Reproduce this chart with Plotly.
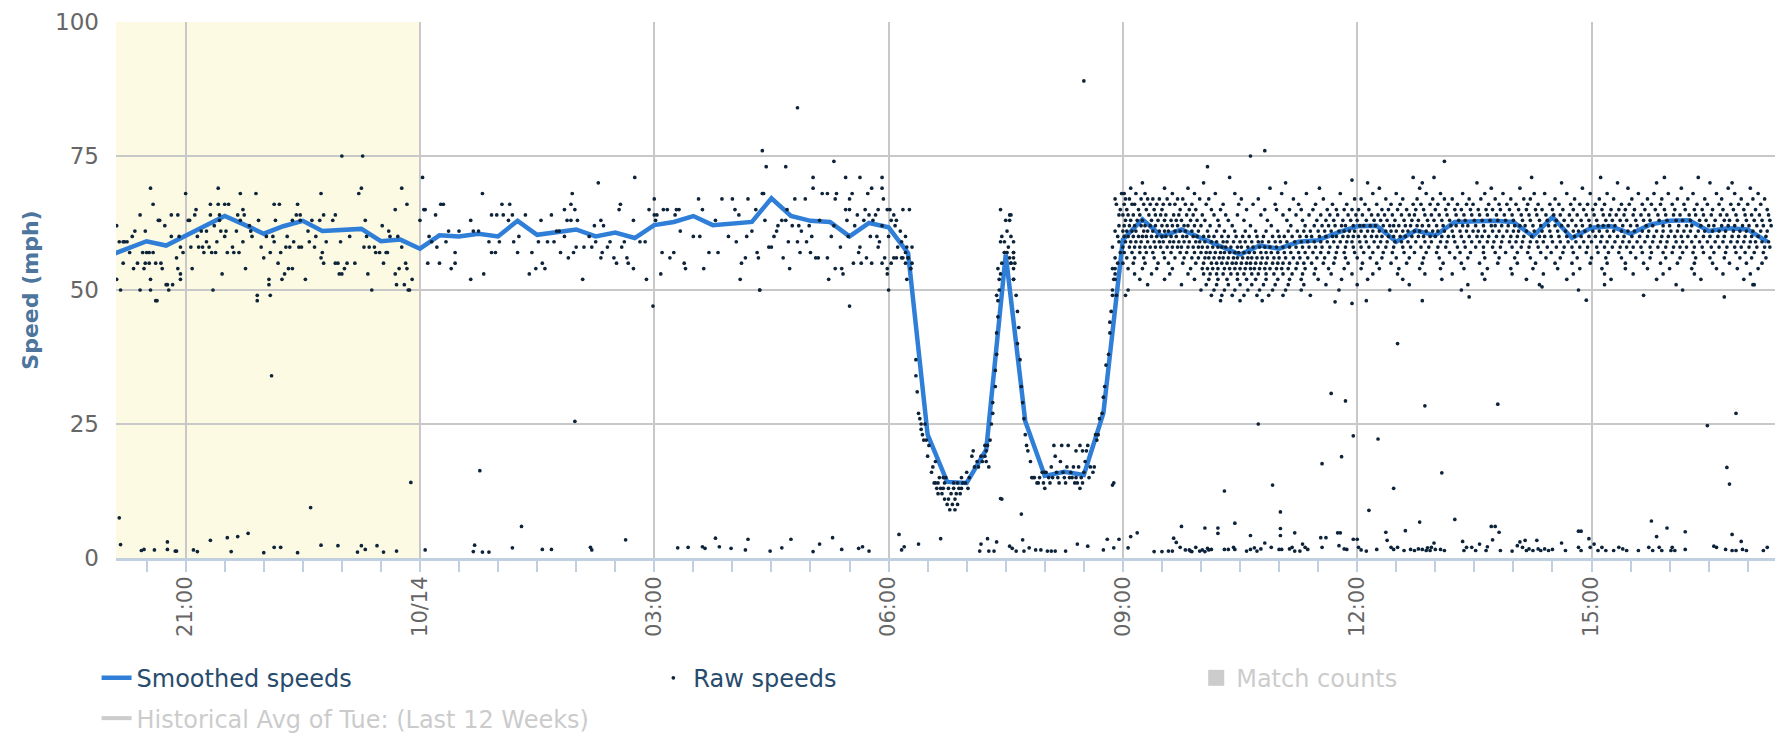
import pandas as pd
import plotly.graph_objects as go

# ---------------- data ----------------
BASE = "2014-10-13 20:00"          # raw minutes are counted from here

smooth_start = "2014-10-13 20:00"  # smoothed speeds, one value every 15 min
smooth_mph = [
    56.3, 57.7, 59.1, 58.3, 60.2, 61.9, 63.8, 62.2, 60.5, 61.9, 62.9, 61.0, 61.2, 61.4, 59.1, 59.4,
    57.7, 60.2, 60.0, 60.5, 60.0, 62.9, 60.3, 60.7, 61.3, 60.0, 60.7, 59.7, 62.1, 62.7, 63.8, 62.1,
    62.5, 62.7, 67.1, 63.8, 62.9, 62.7, 60.0, 62.5,
    61.7, 56.9, 23.0, 14.2, 14.0, 20.2, 56.6, 25.5, 15.3, 16.1, 15.5, 27.0, 59.4, 63.2, 60.0, 61.3,
    59.7, 58.2, 56.6, 58.3, 57.7, 59.0, 59.3, 60.7,
    61.9, 62.0, 59.0, 61.1, 60.2, 62.7, 62.9, 62.9, 62.7, 60.0, 63.6, 59.7, 61.6, 61.9, 60.5, 62.2,
    62.9, 63.0, 61.0, 61.5, 61.3, 59.0,
]

# raw speeds: (minutes after 20:00 on 10/13, mph)
raw_evening = [
    (7,62),(9,59),(12,59),(13,59),(7,52),(10,50),(12,55),(15,59),(17,57),(19,60),(20,54),(21,61),(23,55),
    (25,64),(25,50),(27,57),(28,54),(29,61),(29,55),(30,57),(32,57),(32,55),(33,52),(33,69),(33,50),(35,66),
    (35,57),(37,55),(37,48),(39,63),(40,63),(41,55),(42,54),(44,62),(45,51),(46,51),(47,50),(49,64),(49,60),
    (50,51),(53,56),(54,64),(54,54),(55,60),(56,52),(56,58),(56,53),(58,57),(60,68),(38,48),
    (62,63),(63,63),(64,58),(65,54),(67,64),(68,65),(69,60),(70,58),(72,61),(73,58),(74,57),(76,59),(76,61),
    (78,58),(79,64),(79,66),(80,57),(81,50),(82,62),(83,57),(84,59),(85,69),(85,66),(86,64),(86,63),(87,61),
    (88,53),(90,66),(90,60),(91,61),(92,57),(93,66),(96,58),(97,57),(99,61),(100,64),(101,57),(102,68),
    (102,63),(104,65),(104,59),(105,64),(106,54),(109,62),(110,61),(111,60),(114,68),(115,49),(116,63),
    (118,58),(120,56),(122,60),(124,52),(124,51),(125,49),(125,57),(127,60),(128,66),(128,59),(129,63),
    (131,55),(132,66),(133,57),(134,52),(136,53),(137,58),(138,60),(139,54),(140,58),(142,63),(142,54),
    (143,59),(145,64),(146,66),(147,58),(148,63),(148,64),(149,58),(152,52),(154,61),(155,59),(157,63),
    (159,58),(160,60),(163,63),(164,56),(164,68),(165,57),(166,64),(166,55),(168,59),(173,63),(175,64),
    (175,55),(177,55),(178,53),(179,59),(180,53),(182,54),(184,55),(186,60),(190,55),(193,68),(195,69),
    (197,58),(198,63),(199,60),(200,53),(201,58),(203,50),(205,58),(206,57),(209,57),(211,62),(212,55),
    (214,57),(215,57),(216,61),(217,60),(221,65),(221,53),(223,60),(224,54),(226,69),(226,58),(228,51),
    (229,55),(230,66),(230,54),(232,50),(234,52),(115,48),(222,51),(231,50),(180,75),(196,75),
    (240,63),(242,71),(243,65),(244,65),(246,55),(247,60),(249,59),(252,64),(253,58),(255,55),(256,66),
    (258,66),(260,59),(262,61),(264,54),(267,55),(267,57),(270,61),(279,63),(279,52),(281,61),(285,61),
    (288,68),(289,53),(293,59),(295,64),(295,57),(298,57),(299,64),(301,59),(303,66),(304,64),(308,63),
    (309,66),(311,64),(312,59),(315,57),(316,60),(321,64),(324,53),(326,57),(329,54),(331,59),
]

raw_night = [
    (333,63),(336,54),(334,55),(338,59),(341,64),(343,59),(345,61),(347,61),(348,57),(351,60),(351,65),
    (353,63),(354,56),(356,63),(356,66),(357,68),(358,57),(359,65),(361,63),(360,58),(365,52),(366,58),
    (370,60),(372,58),(374,62),(375,59),(377,70),(379,56),(379,63),(380,57),(381,62),(384,58),(386,59),
    (389,56),(391,55),(393,65),(394,66),(395,58),(397,59),(399,56),(400,55),(404,63),(404,54),(405,71),
    (409,59),(413,59),(414,52),(416,65),(420,67),(420,64),(421,63),(422,64),(425,53),(426,57),(427,65),
    (430,65),(432,56),(435,57),(436,64),(437,65),(439,65),(440,61),(443,55),(444,54),(450,60),(454,67),
    (455,60),(457,65),(458,54),(462,57),(467,63),(469,57),(472,67),(477,60),(480,67),(482,65),(483,59),
    (485,64),(486,52),(487,55),(490,56),(491,60),(492,67),(495,61),(498,65),(499,57),(500,56),(501,50),
    (503,68),(504,68),(505,63),(508,58),(510,58),(512,60),(514,61),(515,62),(518,63),(519,56),(521,63),
    (522,65),(523,59),(524,54),(526,62),(528,67),(530,59),(531,62),(532,57),(533,61),(536,67),(537,59),
    (539,62),(540,57),(541,60),(542,71),(542,69),(544,56),(546,56),(547,63),(549,68),(553,68),(553,56),
    (554,52),(556,60),(558,62),(559,67),(559,54),(560,68),(563,58),(564,54),(565,53),(567,71),(567,65),
    (568,63),(569,60),(570,67),(570,65),(572,68),(573,55),(574,62),(576,64),(577,57),(578,71),(578,58),
    (579,55),(581,63),(582,65),(583,56),(584,68),(585,64),(586,60),(587,69),(587,55),(588,63),(590,64),
    (591,60),(592,58),(592,65),(593,59),(595,71),(595,69),(595,62),(596,67),(597,56),(599,53),(599,65),
    (600,60),(601,65),(602,63),(604,64),(605,62),(606,63),(607,58),(609,61),(610,59),(610,56),(611,65),
    (613,60),(613,55),(614,58),(615,56),(616,65),(617,54),(618,58),
    (503,76),(506,73),(521,73),(530,84),(558,74),(750,89),(419,47),(570,47),(501,50),(600,50),
]

raw_dip = [
    (595,55),(604,56),(606,56),(611,56),(613,57),(615,56),(617,54),(618,55),(614,52),(599,54),(602,55),
    (621,37),(621,34),(622,31),(623,27),(624,26),(625,25),(625,24),(626,23),(628,25),(627,22),(629,22),
    (631,21),(630,19),(634,17),(636,18),(636,14),(635,14),(638,14),(640,13),(641,12),(642,13),(643,11),
    (645,10),(646,11),(647,9),(649,10),(650,13),(651,11),(652,12),(654,13),(655,12),(653,10),(651,9),
    (646,13),(638,12),(637,13),(633,16),(642,15),(656,13),(657,14),(659,14),(660,16),(661,13),(664,19),
    (665,20),(668,18),(669,17),(672,18),(674,19),(675,20),(675,18),(677,17),(674,21),(678,22),(679,25),
    (680,27),(680,29),(682,32),(682,35),(683,38),(683,42),(684,45),(684,48),(685,50),(686,53),(687,55),
    (689,57),(691,57),(693,56),(694,55),(696,57),(696,52),(697,55),(698,49),(699,46),(700,43),(699,40),
    (701,37),(702,32),(703,29),(704,26),(705,23),(706,21),(707,20),(709,18),(710,15),(711,15),(712,15),
    (714,14),(715,14),(716,15),(718,16),(719,14),(720,13),(721,16),(723,15),(724,14),(725,17),(727,21),
    (728,19),(729,16),(730,15),(732,18),(733,21),(734,16),(735,15),(737,17),(738,21),(739,15),(741,15),
    (742,17),(743,14),(744,15),(746,17),(747,13),(748,15),(750,16),(751,18),(752,20),(753,21),(755,17),
    (757,16),(759,23),(760,22),(761,23),(762,26),(764,27),(765,30),(766,32),(767,36),(769,38),(770,42),
    (770,44),(771,46),(772,49),(773,52),(774,53),(774,54),(776,55),(778,57),(773,14),(687,11),
    (643,14),(644,15),(648,12),(650,14),(639,15),(653,14),(656,15),(662,15),(666,17),(671,19),(676,21),
    (720,16),(726,15),(731,14),(736,14),(740,16),(745,14),(749,14),(754,15),(758,17),(744,20),(747,21),
    (749,20),
    (686,65),(693,64),(694,64),(690,63),(693,63),(691,61),(694,60),(687,60),(689,59),(696,59),(686,59),
    (692,58),(696,57),(689,57),(696,56),(694,55),(684,54),(696,54),(685,52),(696,52),(683,49),
    (774,67),(775,66),(777,64),(774,61),(772,58),(774,56),(772,54),(774,52),(772,50),(775,49),(776,60),
    (777,62),(778,65),(779,68),(777,59),
]

# daytime raw speeds come in whole-mph rows: minutes after 20:00 for each speed
day_71 = [862, 1003, 1019, 1094, 1147, 1196, 1222]
day_70 = [795, 842, 905, 968, 1010, 1052, 1117, 1160, 1190, 1231, 1248]
day_69 = [786, 812, 830, 893, 931, 977, 1008, 1063, 1085, 1133, 1168, 1209, 1245, 1262]
day_68 = [781, 790, 797, 818, 835, 851, 866, 902, 921, 947, 972, 990, 1013, 1024, 1041, 1058, 1072, 1096,
          1104, 1121, 1139, 1152, 1176, 1188, 1199, 1218, 1236, 1250, 1268]
day_67 = [782, 785, 794, 799, 803, 808, 814, 822, 826, 839, 846, 871, 884, 911, 934, 958, 963, 982, 995,
          1006, 1018, 1027, 1033, 1046, 1055, 1066, 1078, 1088, 1093, 1112, 1127, 1146, 1157, 1171, 1183,
          1194, 1206, 1214, 1227, 1240, 1255, 1264, 1273]
day_66 = [781, 787, 789, 796, 801, 806, 811, 816, 820, 828, 833, 844, 857, 869, 880, 897, 915, 928, 941,
          952, 966, 975, 986, 993, 1003, 1009, 1016, 1022, 1030, 1037, 1044, 1049, 1061, 1069, 1075, 1082,
          1091, 1099, 1108, 1115, 1124, 1131, 1137, 1143, 1150, 1163, 1169, 1179, 1186, 1193, 1202, 1211,
          1221, 1229, 1238, 1247, 1253, 1260, 1270]
day_65 = [783, 792, 798, 804, 810, 824, 831, 836, 848, 855, 875, 889, 898, 908, 917, 926, 937, 944, 950,
          956, 961, 969, 979, 984, 991, 998, 1005, 1011, 1020, 1028, 1035, 1040, 1047, 1053, 1059, 1064,
          1070, 1077, 1084, 1090, 1097, 1102, 1110, 1118, 1126, 1134, 1141, 1148, 1155, 1161, 1166, 1173,
          1181, 1189, 1196, 1204, 1212, 1219, 1225, 1233, 1241, 1249, 1257, 1266, 1275]
day_64 = [780, 784, 788, 793, 800, 805, 809, 813, 819, 823, 829, 834, 841, 850, 859, 868, 886, 903, 913,
          923, 932, 939, 945, 953, 959, 964, 971, 976, 981, 987, 994, 1000, 1004, 1012, 1017, 1023, 1029,
          1036, 1042, 1048, 1054, 1060, 1067, 1073, 1079, 1086, 1092, 1098, 1105, 1111, 1116, 1123, 1129,
          1136, 1142, 1149, 1154, 1159, 1165, 1172, 1178, 1184, 1191, 1197, 1203, 1208, 1215, 1220, 1226,
          1232, 1239, 1244, 1251, 1258, 1263, 1269, 1276]
day_63 = [782, 786, 791, 795, 802, 807, 812, 817, 821, 825, 832, 837, 843, 853, 861, 873, 891, 906, 918,
          929, 936, 942, 949, 955, 960, 967, 973, 978, 983, 989, 996, 1002, 1007, 1014, 1019, 1025, 1031,
          1038, 1043, 1050, 1056, 1062, 1068, 1074, 1080, 1087, 1093, 1100, 1106, 1113, 1119, 1125, 1132,
          1138, 1144, 1151, 1156, 1162, 1167, 1174, 1180, 1185, 1192, 1198, 1205, 1210, 1216, 1223, 1228,
          1235, 1242, 1246, 1252, 1259, 1265, 1271, 1277]
day_62 = [781, 785, 789, 794, 797, 801, 805, 810, 814, 818, 822, 827, 830, 835, 840, 847, 854, 864, 878,
          894, 909, 920, 927, 933, 938, 943, 948, 951, 957, 962, 965, 970, 974, 980, 985, 988, 992, 997,
          1001, 1006, 1010, 1015, 1021, 1026, 1032, 1036, 1041, 1045, 1051, 1057, 1063, 1066, 1071, 1076,
          1081, 1085, 1089, 1095, 1101, 1107, 1112, 1117, 1122, 1128, 1133, 1139, 1145, 1149, 1153, 1158,
          1164, 1170, 1175, 1182, 1187, 1195, 1200, 1207, 1213, 1217, 1224, 1230, 1234, 1240, 1245, 1250,
          1256, 1261, 1267, 1272, 1278]
day_61 = [780, 783, 787, 790, 796, 799, 803, 808, 812, 815, 820, 824, 828, 833, 838, 845, 852, 858, 866,
          874, 882, 890, 899, 907, 914, 919, 924, 930, 935, 940, 946, 950, 954, 958, 963, 968, 972, 977,
          982, 986, 990, 995, 999, 1004, 1008, 1013, 1018, 1022, 1027, 1033, 1039, 1044, 1049, 1053, 1058,
          1064, 1069, 1075, 1080, 1084, 1090, 1096, 1102, 1108, 1114, 1120, 1126, 1130, 1135, 1141, 1146,
          1152, 1157, 1163, 1168, 1173, 1179, 1184, 1190, 1195, 1201, 1206, 1211, 1216, 1222, 1227, 1233,
          1238, 1243, 1249, 1254, 1259, 1264, 1270, 1275]
day_60 = [781, 784, 788, 792, 795, 798, 802, 806, 810, 813, 817, 821, 826, 829, 834, 837, 842, 846, 850,
          856, 861, 867, 872, 877, 883, 888, 895, 900, 904, 910, 916, 921, 925, 931, 936, 941, 944, 949,
          953, 957, 961, 966, 971, 975, 979, 984, 988, 993, 997, 1002, 1007, 1011, 1016, 1020, 1025, 1030,
          1034, 1040, 1046, 1052, 1056, 1061, 1067, 1072, 1078, 1083, 1088, 1094, 1100, 1104, 1109, 1115,
          1121, 1127, 1132, 1138, 1143, 1148, 1154, 1160, 1165, 1171, 1177, 1183, 1188, 1194, 1199, 1204,
          1209, 1214, 1220, 1226, 1231, 1237, 1242, 1248, 1253, 1258, 1263, 1268, 1274]
day_59 = [782, 786, 790, 794, 799, 804, 808, 811, 816, 819, 823, 827, 831, 836, 839, 843, 848, 852, 857,
          860, 865, 870, 874, 879, 884, 887, 892, 897, 901, 906, 912, 917, 922, 927, 932, 937, 942, 947,
          952, 956, 962, 967, 973, 978, 983, 989, 994, 999, 1005, 1012, 1017, 1024, 1029, 1035, 1042, 1048,
          1054, 1060, 1065, 1071, 1077, 1082, 1087, 1093, 1098, 1103, 1110, 1116, 1122, 1128, 1134, 1140,
          1147, 1152, 1158, 1164, 1169, 1175, 1181, 1187, 1193, 1198, 1205, 1210, 1217, 1223, 1229, 1235,
          1241, 1247, 1252, 1257, 1262, 1266, 1271, 1276]
day_58 = [780, 785, 789, 793, 797, 801, 805, 809, 814, 818, 822, 825, 830, 834, 838, 841, 845, 849, 853,
          856, 859, 863, 868, 871, 876, 880, 885, 889, 893, 898, 903, 908, 913, 918, 923, 928, 933, 939,
          945, 951, 957, 963, 969, 976, 982, 988, 995, 1001, 1009, 1015, 1022, 1028, 1037, 1043, 1051,
          1057, 1064, 1070, 1079, 1086, 1092, 1099, 1106, 1113, 1119, 1125, 1131, 1137, 1144, 1150, 1156,
          1162, 1167, 1172, 1178, 1185, 1191, 1197, 1203, 1208, 1213, 1219, 1225, 1232, 1238, 1244, 1250,
          1255, 1261, 1267, 1273, 1277]
day_57 = [781, 787, 793, 798, 803, 811, 817, 824, 829, 835, 840, 844, 847, 851, 855, 858, 862, 866, 869,
          873, 877, 881, 886, 890, 894, 899, 904, 909, 915, 920, 926, 932, 938, 944, 950, 958, 965, 972,
          980, 987, 996, 1004, 1013, 1021, 1031, 1039, 1047, 1057, 1066, 1074, 1083, 1091, 1101, 1109,
          1118, 1126, 1136, 1145, 1153, 1161, 1170, 1179, 1186, 1195, 1202, 1210, 1218, 1226, 1234, 1243,
          1251, 1258, 1265, 1272]
day_56 = [783, 789, 796, 804, 812, 820, 827, 833, 838, 843, 846, 850, 854, 857, 861, 865, 868, 872, 876,
          879, 883, 887, 891, 896, 900, 905, 911, 916, 922, 929, 935, 943, 951, 960, 970, 979, 990, 1000,
          1011, 1023, 1035, 1045, 1058, 1069, 1081, 1093, 1105, 1116, 1129, 1140, 1151, 1163, 1174, 1185,
          1197, 1208, 1220, 1231, 1242, 1254, 1263, 1274]
day_55 = [780, 788, 797, 807, 815, 826, 836, 842, 848, 852, 856, 860, 864, 867, 871, 875, 878, 882, 886,
          890, 895, 899, 903, 908, 914, 919, 925, 934, 942, 953, 964, 975, 986, 998, 1010, 1026, 1040,
          1054, 1068, 1083, 1097, 1112, 1125, 1139, 1152, 1166, 1180, 1193, 1206, 1219, 1233, 1246, 1259,
          1271]
day_54 = [784, 795, 806, 818, 832, 841, 845, 849, 853, 858, 862, 866, 870, 874, 878, 881, 885, 889, 893,
          898, 902, 907, 913, 920, 928, 938, 950, 963, 977, 992, 1008, 1024, 1042, 1060, 1078, 1095, 1114,
          1131, 1148, 1166, 1183, 1200, 1217, 1236, 1252, 1268]
day_53 = [789, 802, 816, 830, 842, 847, 852, 857, 863, 868, 873, 879, 884, 890, 896, 903, 910, 918, 927,
          940, 956, 972, 991, 1012, 1033, 1056, 1079, 1103, 1126, 1150, 1172, 1195, 1219, 1241, 1262]
day_52 = [793, 812, 835, 846, 853, 860, 868, 875, 882, 890, 899, 908, 917, 930, 948, 968, 995, 1025, 1058,
          1090, 1121, 1155, 1190, 1224, 1257]
day_51 = [799, 825, 844, 852, 861, 870, 879, 888, 897, 907, 919, 936, 960, 1000, 1045, 1100, 1150, 1205, 1265]
day_50 = [784, 840, 850, 858, 866, 876, 885, 895, 905, 917, 946, 985, 1040, 1130, 1210]
day_49 = [782, 848, 856, 864, 873, 883, 892, 903, 924, 1180]
day_48 = [855, 870, 887, 1010]

raw_day_outliers = [(845,73),(878,75),(889,76),(956,70.5),(1027,74)]

# stray readings near standstill and in between
raw_low = [
    (9,7.5),(10,2.5),(26,1.4),(28,1.6),(36,1.5),(46,3),(46,1.6),(52,1.3),(53,1.3),(66,1.5),(69,1.2),(79,3.3),
    (92,3.8),(95,1.2),(100,4),(108,4.6),(120,1),(126,34),(128,2),(133,2),(146,1),(156,9.4),(164,2.4),
    (177,2.3),(192,1.1),(195,2.3),(198,1.6),(207,2.3),(212,1.1),(222,1.3),(233,14.1),(244,1.5),(281,1.2),
    (282,2.4),(286,16.3),(288,1.1),(293,1.1),(311,1.9),(318,5.9),(334,1.6),(341,1.6),(359,25.5),(371,2),
    (372,1.5),(398,3.4),(438,1.9),(446,2),(457,2.1),(459,1.8),(467,3.7),(470,2.1),(479,1.8),(490,1.5),
    (492,3.5),(509,1.3),(518,1.9),(525,3.5),(542,1.2),(547,2.6),(557,3.8),(564,1.6),(577,1.8),(580,2.1),
    (585,1.3),(608,4.4),(610,1.5),(612,2.1),(623,2.6),(640,3.6),(670,1.3),(671,2.6),(676,3.6),(677,1.3),
    (681,1.3),(683,3),(686,11.1),(693,2.2),(695,1.8),(698,1.3),(702,8.2),(703,3.4),(704,1.3),(708,1.9),
    (713,1.5),(717,1.5),(722,1.3),(725,1.3),(728,1.3),(736,1.3),(745,2.6),(753,2.2),(765,1.5),(768,3.5),
    (772,13.6),(773,1.9),(777,3.5),(784,1.9),(786,4),(791,4.7),(804,1.2),(810,1.2),(815,1.3),(818,1.3),
    (819,3.7),(821,2.9),(824,2),(825,5.9),(828,1.5),(832,1.3),(836,2),(831,1.5),(833,1.2),(839,1.3),
    (841,1.5),(843,5.6),(843,1.2),(845,1.8),(846,1.5),(848,1.6),(853,5.6),(853,4.6),(858,12.5),(858,1.6),
    (861,1.6),(865,2),(866,6.5),(866,1.6),(875,1.3),(878,1.6),(878,4.2),(881,1.9),(883,1.3),(884,25),
    (886,1.7),(889,2.8),(894,2),(895,13.6),(900,1.6),(901,8.6),(901,5.5),(901,4.2),(902,1.6),(908,1.7),
    (910,2),(912,4.7),(912,1.3),(916,1.3),(918,2.6),(920,2),(922,1.6),(932,3.8),(936,3.8),(933,17.6),
    (933,2),(940,30.7),(943,47.8),(945,4.7),(947,4.7),(948,18.9),(946,2.3),(950,1.7),(952,1.6),(951,29.3),
    (956,47.5),(957,22.8),(957,3.5),(960,3.5),(961,2),(963,1.5),(967,1.3),(967,48),(969,8.9),(975,1.6),
    (976,22.2),(982,4.8),(983,3.3),(986,2),(988,1.6),(988,13),(991,2),(991,40),(996,1.4),(997,5.1),
    (1001,1.6),(1004,1.4),(1007,1.7),(1008,6.7),(1010,1.6),(1012,28.4),(1013,1.4),(1014,1.9),(1016,1.4),
    (1017,2),(1019,2.8),(1020,1.6),(1024,1.6),(1025,15.9),(1027,1.4),(1035,7.2),(1041,3.1),(1042,1.4),
    (1044,2),(1046,48.7),(1048,2),(1051,1.4),(1054,2.6),(1059,1.4),(1060,2.1),(1063,5.9),(1064,3.4),
    (1066,5.9),(1068,28.7),(1069,4.8),(1070,1.4),(1079,1.3),(1083,2.3),(1085,3),(1087,2),(1089,3.3),
    (1090,1.4),(1092,1.7),(1095,1.4),(1098,3.3),(1099,1.7),(1101,1.4),(1102,50.6),(1104,1.7),(1107,1.4),
    (1110,1.6),(1117,2.8),(1120,1.4),(1130,5),(1132,5),(1130,2),(1132,1.4),(1136,48.1),(1138,3.6),
    (1139,2),(1142,2.6),(1145,1.4),(1148,2),(1151,1.4),(1157,1.4),(1161,2),(1164,1.7),(1167,1.4),
    (1176,1.4),(1184,2),(1186,6.9),(1187,1.4),(1190,4),(1192,2),(1194,1.4),(1198,5.6),(1201,1.4),
    (1202,2),(1204,1.4),(1212,4.9),(1212,1.6),(1229,24.7),(1234,2.2),(1236,2),(1242,48.7),(1244,16.9),
    (1246,13.8),(1243,1.6),(1248,4.4),(1248,1.4),(1251,27),(1251,1.4),(1255,3.1),(1256,1.6),(1259,1.4),
    (1264,51),(1272,1.4),(1275,2),
]

x_tick_vals = ["2014-10-13 21:00", "2014-10-14 00:00", "2014-10-14 03:00", "2014-10-14 06:00",
               "2014-10-14 09:00", "2014-10-14 12:00", "2014-10-14 15:00"]
x_tick_text = ["21:00", "10/14", "03:00", "06:00", "09:00", "12:00", "15:00"]
y_tick_vals = [0, 25, 50, 75, 100]
x_range = ["2014-10-13 20:06:30", "2014-10-14 17:33:15"]
night_band = ["2014-10-13 20:00", "2014-10-14 00:00"]

# ---------------- build ----------------
day_rows = [(71, day_71), (70, day_70), (69, day_69), (68, day_68), (67, day_67), (66, day_66),
            (65, day_65), (64, day_64), (63, day_63), (62, day_62), (61, day_61), (60, day_60),
            (59, day_59), (58, day_58), (57, day_57), (56, day_56), (55, day_55), (54, day_54),
            (53, day_53), (52, day_52), (51, day_51), (50, day_50), (49, day_49), (48, day_48)]
raw_pts = raw_evening + raw_night + raw_dip + raw_day_outliers + raw_low
for mph, mins in day_rows:
    raw_pts += [(m, mph) for m in mins]

base = pd.Timestamp(BASE)
raw_x = [base + pd.Timedelta(minutes=m) for m, _ in raw_pts]
raw_y = [v for _, v in raw_pts]
smooth_x = pd.date_range(smooth_start, periods=len(smooth_mph), freq="15min")

FONT = "DejaVu Sans"
fig = go.Figure()
fig.add_trace(go.Scatter(x=smooth_x, y=smooth_mph, mode="lines", name="Smoothed speeds",
                         line=dict(color="#2f7ed8", width=4.5), legend="legend"))
fig.add_trace(go.Scatter(x=raw_x, y=raw_y, mode="markers", name="Raw speeds",
                         marker=dict(color="#0d233a", size=3.7, line=dict(width=0)),
                         legend="legend2"))
fig.add_trace(go.Scatter(x=[None], y=[None], mode="markers", name="Match counts",
                         marker=dict(color="#999999", symbol="square", size=22),
                         visible="legendonly", legend="legend3"))
fig.add_trace(go.Scatter(x=[None], y=[None], mode="lines", name="Historical Avg of Tue: (Last 12 Weeks)",
                         line=dict(color="#999999", width=4), visible="legendonly", legend="legend4"))

fig.add_shape(type="rect", xref="x", yref="paper", x0=night_band[0], x1=night_band[1], y0=0, y1=1,
              fillcolor="#FCFAE3", line_width=0, layer="below")

leg_common = dict(xanchor="left", yanchor="middle", bgcolor="rgba(0,0,0,0)", borderwidth=0,
                  itemclick=False, itemdoubleclick=False)
LEG_ROW1, LEG_ROW2 = -0.2243, -0.2995
fig.update_layout(
    template="none",
    width=1783, height=736, autosize=False,
    margin=dict(l=108, r=0, t=14, b=186),
    paper_bgcolor="white", plot_bgcolor="white",
    showlegend=True,
    legend=dict(x=-0.0116, y=LEG_ROW1, font=dict(family=FONT, size=24, color="#274b6d"), **leg_common),
    legend2=dict(x=0.3208, y=LEG_ROW1, font=dict(family=FONT, size=24, color="#274b6d"), **leg_common),
    legend3=dict(x=0.6449, y=LEG_ROW1, font=dict(family=FONT, size=24, color="#999999"), **leg_common),
    legend4=dict(x=-0.0116, y=LEG_ROW2, font=dict(family=FONT, size=24, color="#999999"), **leg_common),
    xaxis=dict(
        type="date", range=x_range, automargin=False,
        tickmode="array", tickvals=x_tick_vals, ticktext=x_tick_text, tickangle=-90,
        ticks="outside", ticklen=11, tickwidth=2, tickcolor="#C0D0E0", ticklabelstandoff=-4,
        tickfont=dict(family=FONT, size=21, color="#666666"),
        showline=True, linecolor="#C0D0E0", linewidth=3,
        showgrid=True, gridcolor="#C8C8C8", gridwidth=1.5, zeroline=False,
        minor=dict(tickmode="linear", tick0="2014-10-13 00:00", dtick=1800000, ticks="outside",
                   ticklen=11, tickwidth=2, tickcolor="#C0D0E0", showgrid=False),
    ),
    yaxis=dict(
        range=[0, 100], automargin=False, tickmode="array", tickvals=y_tick_vals,
        ticks="", ticklabelstandoff=16,
        tickfont=dict(family=FONT, size=23, color="#666666"),
        showgrid=True, gridcolor="#C8C8C8", gridwidth=1.5, zeroline=False, showline=False,
        title=dict(text="Speed (mph)", standoff=10,
                   font=dict(family=FONT, size=22, color="#4d759e", weight="bold")),
    ),
)

fig.write_html("out.html")
